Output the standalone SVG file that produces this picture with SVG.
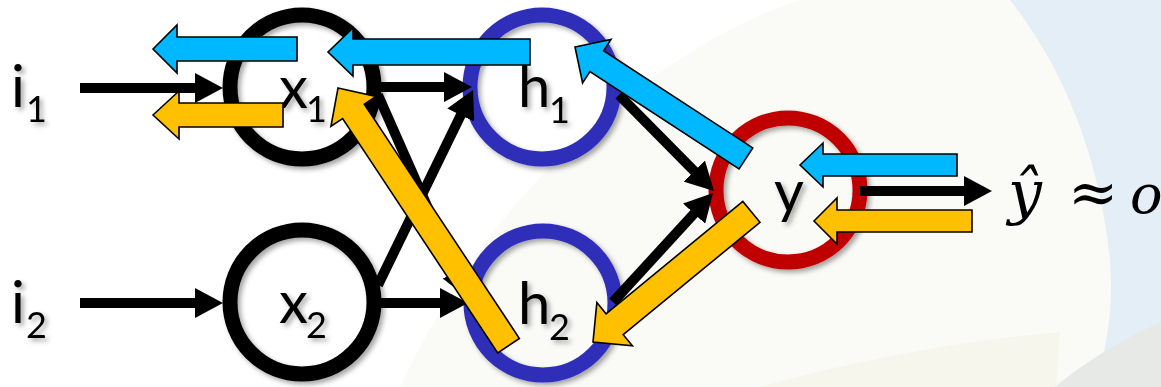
<svg xmlns="http://www.w3.org/2000/svg" width="1161" height="387" viewBox="0 0 1161 387">
<defs>
<style>
.ring{fill:none;stroke-width:15}
.blk{stroke:#000;stroke-width:10;fill:none;marker-end:url(#ah)}
.lbl{font-family:Lato,"Open Sans",sans-serif;font-size:58px;fill:#000}
.sub{font-size:36px}
.blue{fill:#00B8FF;stroke:#000;stroke-width:1.6;stroke-linejoin:miter}
.orange{fill:#FFC000;stroke:#000;stroke-width:1.6;stroke-linejoin:miter}
.math{font-family:"DejaVu Serif","Liberation Serif",serif;font-size:54px;fill:#000}
</style>
<filter id="sh" x="-20%" y="-20%" width="140%" height="140%">
<feDropShadow dx="3" dy="3" stdDeviation="2.5" flood-color="#000" flood-opacity="0.35"/>
</filter>
<marker id="ah" markerUnits="userSpaceOnUse" markerWidth="28" markerHeight="30" refX="4" refY="15" orient="auto">
<path d="M0,0 L28,15 L0,30 Z" fill="#000"/>
</marker>
</defs>
<g id="background">
<rect width="1161" height="387" fill="#FFFFFF"/>
<path d="M800,0 C680,40 560,140 480,250 C445,300 420,345 400,387 L1161,387 L1161,0 Z" fill="#FAFAF6"/>
<path d="M760,387 C850,362 950,342 1060,332 L1056,387 Z" fill="#F7F6EC"/>
<path d="M1010,0 C1065,70 1100,160 1110,260 C1114,310 1106,350 1095,387 L1161,387 L1161,0 Z" fill="#E4EEF7"/>
<path d="M1055,387 C1085,362 1120,340 1161,322 L1161,387 Z" fill="#E7E9E7"/>
</g>
<g id="node-i1"><text class="lbl" filter="url(#sh)"><tspan x="11" y="107">i</tspan><tspan class="sub" x="26" y="122">1</tspan></text></g>
<g id="node-i2"><text class="lbl" filter="url(#sh)"><tspan x="11" y="323">i</tspan><tspan class="sub" x="26" y="338">2</tspan></text></g>
<g id="node-x1"><circle class="ring" cx="302" cy="87" r="72" stroke="#000" filter="url(#sh)"/><text class="lbl" filter="url(#sh)"><tspan x="279" y="108">x</tspan><tspan class="sub" x="306" y="122">1</tspan></text></g>
<g id="node-x2"><circle class="ring" cx="302" cy="302" r="72" stroke="#000" filter="url(#sh)"/><text class="lbl" filter="url(#sh)"><tspan x="279" y="323">x</tspan><tspan class="sub" x="306" y="338">2</tspan></text></g>
<g id="node-h1"><circle class="ring" cx="542" cy="87" r="72" stroke="#2E2EB8" filter="url(#sh)"/><text class="lbl" filter="url(#sh)"><tspan x="518" y="107">h</tspan><tspan class="sub" x="549" y="123">1</tspan></text></g>
<g id="node-h2"><circle class="ring" cx="543" cy="303" r="72" stroke="#2E2EB8" filter="url(#sh)"/><text class="lbl" filter="url(#sh)"><tspan x="518" y="324">h</tspan><tspan class="sub" x="549" y="340">2</tspan></text></g>
<g id="node-y"><circle class="ring" cx="788" cy="190" r="72" stroke="#C00000" filter="url(#sh)"/><text class="lbl" x="774" y="212" filter="url(#sh)">y</text></g>
<g id="node-output"><text class="math"><tspan x="1008" y="213" font-style="italic" font-size="60">ŷ</tspan><tspan x="1068" y="213" font-size="60">≈</tspan><tspan x="1130" y="213" font-style="italic">o</tspan></text></g>
<g id="connectors">
<line class="blk" x1="80" y1="88" x2="199" y2="88"/>
<line class="blk" x1="80" y1="303" x2="199" y2="303"/>
<line class="blk" x1="378" y1="87" x2="448" y2="87"/>
<line class="blk" x1="380" y1="303" x2="444" y2="303"/>
<line class="blk" x1="378" y1="285" x2="462.5" y2="111.6"/>
<line class="blk" x1="378" y1="95" x2="458" y2="276"/>
<line class="blk" x1="619" y1="95" x2="697.1" y2="173.9"/>
<line class="blk" x1="613" y1="302" x2="696.8" y2="210.7"/>
<line class="blk" x1="860" y1="191" x2="968" y2="191"/>
</g>
<g id="backprop-arrows">
<path class="blue" d="M153,49 L177,25 L177,37 L297,37 L297,61 L177,61 L177,73 Z"/>
<path class="blue" d="M328,52 L353,28 L353,39 L530,39 L530,65 L353,65 L353,76 Z"/>
<path class="blue" transform="translate(575,47) rotate(33.1)" d="M0,0 L26,-26 L26,-12.5 L204,-12.5 L204,12.5 L26,12.5 L26,26 Z"/>
<path class="blue" d="M800,165 L823,143 L823,154 L957,154 L957,176 L823,176 L823,187 Z"/>
<path class="orange" d="M153,115 L179,91 L179,103 L283,103 L283,127 L179,127 L179,139 Z"/>
<path class="orange" transform="translate(338,88) rotate(56.5)" d="M0,0 L28,-27 L28,-13 L309,-13 L309,13 L28,13 L28,27 Z"/>
<path class="orange" transform="translate(593,342) rotate(-39.4)" d="M0,0 L28,-28 L28,-13.5 L205,-13.5 L205,13.5 L28,13.5 L28,28 Z"/>
<path class="orange" d="M814,221 L837,198 L837,210 L972,210 L972,232 L837,232 L837,244 Z"/>
</g>
</svg>
